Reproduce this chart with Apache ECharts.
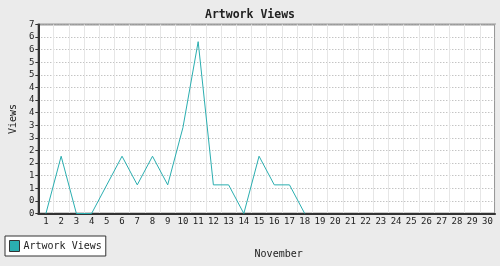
<!DOCTYPE html>
<html><head><meta charset="utf-8">
<script src="https://cdn.jsdelivr.net/npm/echarts@6/dist/echarts.min.js"></script>
<style>html,body{margin:0;padding:0;background:#ebebeb;}#c{width:500px;height:266px;}</style>
</head><body><div id="c"></div>
<script>
const days = ['1','2','3','4','5','6','7','8','9','10','11','12','13','14','15','16','17','18','19','20','21','22','23','24','25','26','27','28','29','30'];
const views = [0,2,0,0,1,2,1,2,1,3,6,1,1,0,2,1,1,0,null,null,null,null,null,null,null,null,null,null,null,null];
const seriesName = 'Artwork Views';
const yMax = 6.6, yInterval = 0.44;
const font = 'DejaVu Sans Mono';
const chart = echarts.init(document.getElementById('c'), null, {renderer:'canvas'});
chart.setOption({
  backgroundColor: '#ebebeb',
  animation: false,
  title: {text: 'Artwork Views', left: 'center', top: 4, textStyle: {fontFamily: font, fontWeight: 'bold', fontSize: 11.5, color: '#222'}},
  grid: {left: 30, right: 5, top: 24.5, bottom: 52.5, show: true, backgroundColor: '#fff', borderColor: '#999', borderWidth: 2},
  legend: {left: 5, bottom: 10, orient: 'horizontal', data: [seriesName], icon: 'rect', itemWidth: 10, itemHeight: 11, itemGap: 4,
    padding: [4, 4, 4, 4], borderColor: '#333', borderWidth: 1, backgroundColor: '#fff',
    textStyle: {fontFamily: font, fontSize: 10, color: '#222', padding: [0,0,0,-1]},
    itemStyle: {borderColor: '#333', borderWidth: 1}},
  xAxis: [{type: 'category', data: days, boundaryGap: true, name: 'November', nameLocation: 'middle', nameGap: 36,
    nameTextStyle: {fontFamily: font, fontSize: 10, color: '#222', padding: [0,0,0,24]},
    axisLine: {lineStyle: {color: '#333', width: 2}},
    axisTick: {alignWithLabel: true, length: 3, lineStyle: {color: '#333'}},
    axisLabel: {fontFamily: font, fontSize: 9, color: '#222', margin: 4, interval: 0},
    splitLine: {show: false}, z: 3},
   {type: 'value', min: 0.5, max: days.length + 0.5, interval: 1, show: true, position: 'bottom',
    axisLine: {show: false}, axisTick: {show: false}, axisLabel: {show: false},
    splitLine: {show: true, lineStyle: {color: '#e6e6e6', width: 1, type: 'solid'}}, z: 0}],
  yAxis: {type: 'value', min: 0, max: yMax, interval: yInterval, name: 'Views', nameLocation: 'middle', nameGap: 18, nameRotate: 90,
    nameTextStyle: {fontFamily: font, fontSize: 10, color: '#222'},
    axisLine: {show: true, lineStyle: {color: '#333', width: 2}},
    axisTick: {show: true, length: 3, lineStyle: {color: '#333'}},
    axisLabel: {fontFamily: font, fontSize: 9, color: '#222', margin: 4, showMaxLabel: true, formatter: v => String(Math.round(v))},
    splitLine: {show: true, lineStyle: {color: '#aaa', type: [1, 2], width: 1}}},
  series: [{name: seriesName, type: 'line', data: views, symbol: 'none', connectNulls: false, xAxisIndex: 0,
    lineStyle: {color: '#2aaeb0', width: 1}, itemStyle: {color: '#2aaeb0'}}]
});
</script></body></html>
